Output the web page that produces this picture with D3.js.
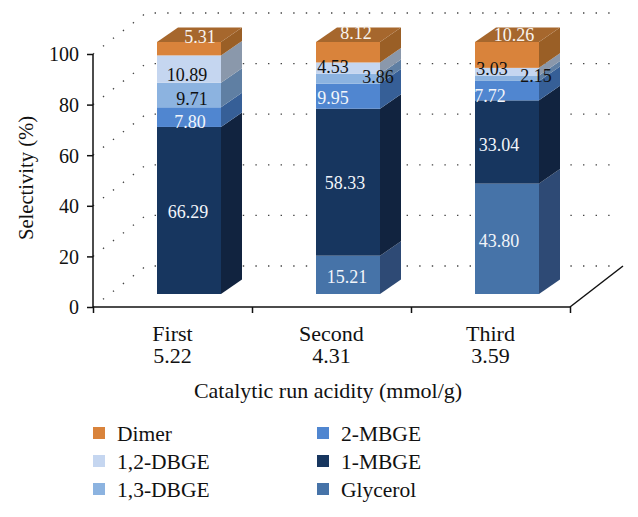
<!DOCTYPE html>
<html><head><meta charset="utf-8">
<script src="https://cdn.jsdelivr.net/npm/d3@7"></script>
<style>html,body{margin:0;padding:0;background:#fff}svg{display:block}text{font-family:"Liberation Serif",serif;fill:#111}</style>
</head><body><svg id="c" width="638" height="517"></svg>
<script>
const runs = ["First","Second","Third"];
const acidity = ["5.22","4.31","3.59"];
const seriesNames = ["Glycerol","1-MBGE","2-MBGE","1,3-DBGE","1,2-DBGE","Dimer"];
const glycerol = [0,15.21,43.80];
const mbge1 = [66.29,58.33,33.04];
const mbge2 = [7.80,9.95,7.72];
const dbge13 = [9.71,3.86,2.15];
const dbge12 = [10.89,4.53,3.03];
const dimer = [5.31,8.12,10.26];
const seriesValues = [glycerol,mbge1,mbge2,dbge13,dbge12,dimer];
const frontColors = ["#4673a8","#17365f","#5086d0","#8cb3e0","#c5d6f0","#d9833b"];
const sideColors = ["#2e4a75","#11233f","#365f97","#5f7fa3","#8a98ab","#9a5f26"];
const topColor = "#a6672d";
const labelColors = ["#f2f5fa","#f2f5fa","#f2f5fa","#111","#111","#f8f4ef"];
const yTicks = [0,20,40,60,80,100];
// label nudges [dx,dy] per series (rows) and run (columns), relative to the segment's front centre
const labelNudges = [
 [[0,0],[-1,2],[-8,2]],
 [[-1,2],[-3,1],[-8,3]],
 [[1,5],[-15,2],[-17,5]],
 [[3,4],[30,-2],[29,-2]],
 [[-2,6],[-15,-1],[-15,-3]],
 [[11,-12],[8,-19],[7,-20]]
];

const svg = d3.select("#c");
const axisY = d3.scaleLinear().domain([0,100]).range([307,54]);
const frontY = d3.scaleLinear().domain([0,100]).range([294,42]);
const axisX = d3.scaleLinear().domain([0,3]).range([93,570]);
const band = d3.scaleBand().domain(runs).range([93,570]);
const floorDx = 53, floorDy = 41, barDx = 21, barDy = 14.5, barW = 64, barShift = -15.5;
const barX = r => band(r) + band.bandwidth()/2 + barShift;

// dotted walls
svg.append("g").selectAll("path").data(yTicks).join("path")
  .attr("fill","none").attr("stroke","#444").attr("stroke-width",1.3)
  .attr("stroke-dasharray","1.4 11.2")
  .attr("d", v => { const y = axisY(v); return d3.line()([[93,y],[93+floorDx,y-floorDy],[619,y-floorDy]]); });

// floor edge
svg.append("path").attr("fill","none").attr("stroke","#111").attr("stroke-width",1.5)
  .attr("d", d3.line()([[axisX(3),axisY(0)],[axisX(3)+floorDx,axisY(0)-floorDy]]));

// stacked bars
const rows = runs.map((r,i)=>{const o={run:r};seriesNames.forEach((s,k)=>o[s]=seriesValues[k][i]);return o;});
const stacked = d3.stack().keys(seriesNames)(rows);
const bars = svg.append("g");
stacked.forEach((layer,k)=>{
  const g = bars.append("g");
  g.selectAll("rect").data(layer).join("rect")
    .attr("x",d=>barX(d.data.run)).attr("width",barW)
    .attr("y",d=>frontY(d[1])).attr("height",d=>frontY(d[0])-frontY(d[1]))
    .attr("fill",frontColors[k]);
  g.selectAll("path").data(layer).join("path").attr("fill",sideColors[k])
    .attr("d",d=>{const x=barX(d.data.run)+barW;const a=frontY(d[0]),b=frontY(d[1]);
      return d3.line()([[x,a],[x,b],[x+barDx,b-barDy],[x+barDx,a-barDy]])+"Z";});
});
// top faces
bars.append("g").selectAll("path").data(runs).join("path").attr("fill",topColor)
  .attr("d",r=>{const x=barX(r),t=frontY(100);
    return d3.line()([[x,t],[x+barW,t],[x+barW+barDx,t-barDy],[x+barDx,t-barDy]])+"Z";});

// data labels
const labels = svg.append("g").attr("font-size",18).attr("text-anchor","middle");
stacked.forEach((layer,k)=>{
  layer.forEach((d,i)=>{
    const v = seriesValues[k][i];
    if(!v) return;
    const n = labelNudges[k][i];
    labels.append("text").attr("x",barX(d.data.run)+barW/2+n[0])
      .attr("y",(frontY(d[0])+frontY(d[1]))/2+n[1]+6)
      .style("fill",labelColors[k]).text(v.toFixed(2));
  });
});

// axes
const yAxis = svg.append("g").attr("transform","translate(93,0)")
  .call(d3.axisLeft(axisY).tickValues(yTicks).tickSize(6).tickPadding(8));
const xAxis = svg.append("g").attr("transform","translate(0,307)")
  .call(d3.axisBottom(axisX).tickValues([0,1,2,3]).tickFormat("").tickSize(6));
[yAxis,xAxis].forEach(a=>{a.selectAll("path,line").attr("stroke","#111").attr("stroke-width",1.5);a.attr("font-family",null);});
yAxis.select(".domain").attr("d","M0,54V307");
xAxis.select(".domain").attr("d","M93,0H570");
yAxis.attr("font-size",20).selectAll("text").style("fill","#111").attr("dy","0.34em");

const cats = svg.append("g").attr("font-size",22).attr("text-anchor","middle");
runs.forEach((r,i)=>{
  const cx = band(r)+band.bandwidth()/2;
  cats.append("text").attr("x",cx).attr("y",341).text(r);
  cats.append("text").attr("x",cx).attr("y",363).text(acidity[i]);
});
svg.append("text").attr("x",328).attr("y",398).attr("text-anchor","middle").attr("font-size",22).text("Catalytic run acidity (mmol/g)");
svg.append("text").attr("transform","translate(33,178) rotate(-90)").attr("text-anchor","middle").attr("font-size",20.6).text("Selectivity (%)");

// legend
const legendOrder = [["Dimer","1,2-DBGE","1,3-DBGE"],["2-MBGE","1-MBGE","Glycerol"]];
const legendColX = d3.scaleOrdinal().domain([0,1]).range([93,317]);
const legendRowY = d3.scalePoint().domain([0,1,2]).range([433,489]);
legendOrder.forEach((col,c)=>col.forEach((name,r)=>{
  const x=legendColX(c), y=legendRowY(r);
  svg.append("rect").attr("x",x).attr("y",y-6).attr("width",12).attr("height",12)
    .attr("fill",frontColors[seriesNames.indexOf(name)]);
  svg.append("text").attr("x",x+24).attr("y",y+8).attr("font-size",21.5).text(name);
}));
</script></body></html>
